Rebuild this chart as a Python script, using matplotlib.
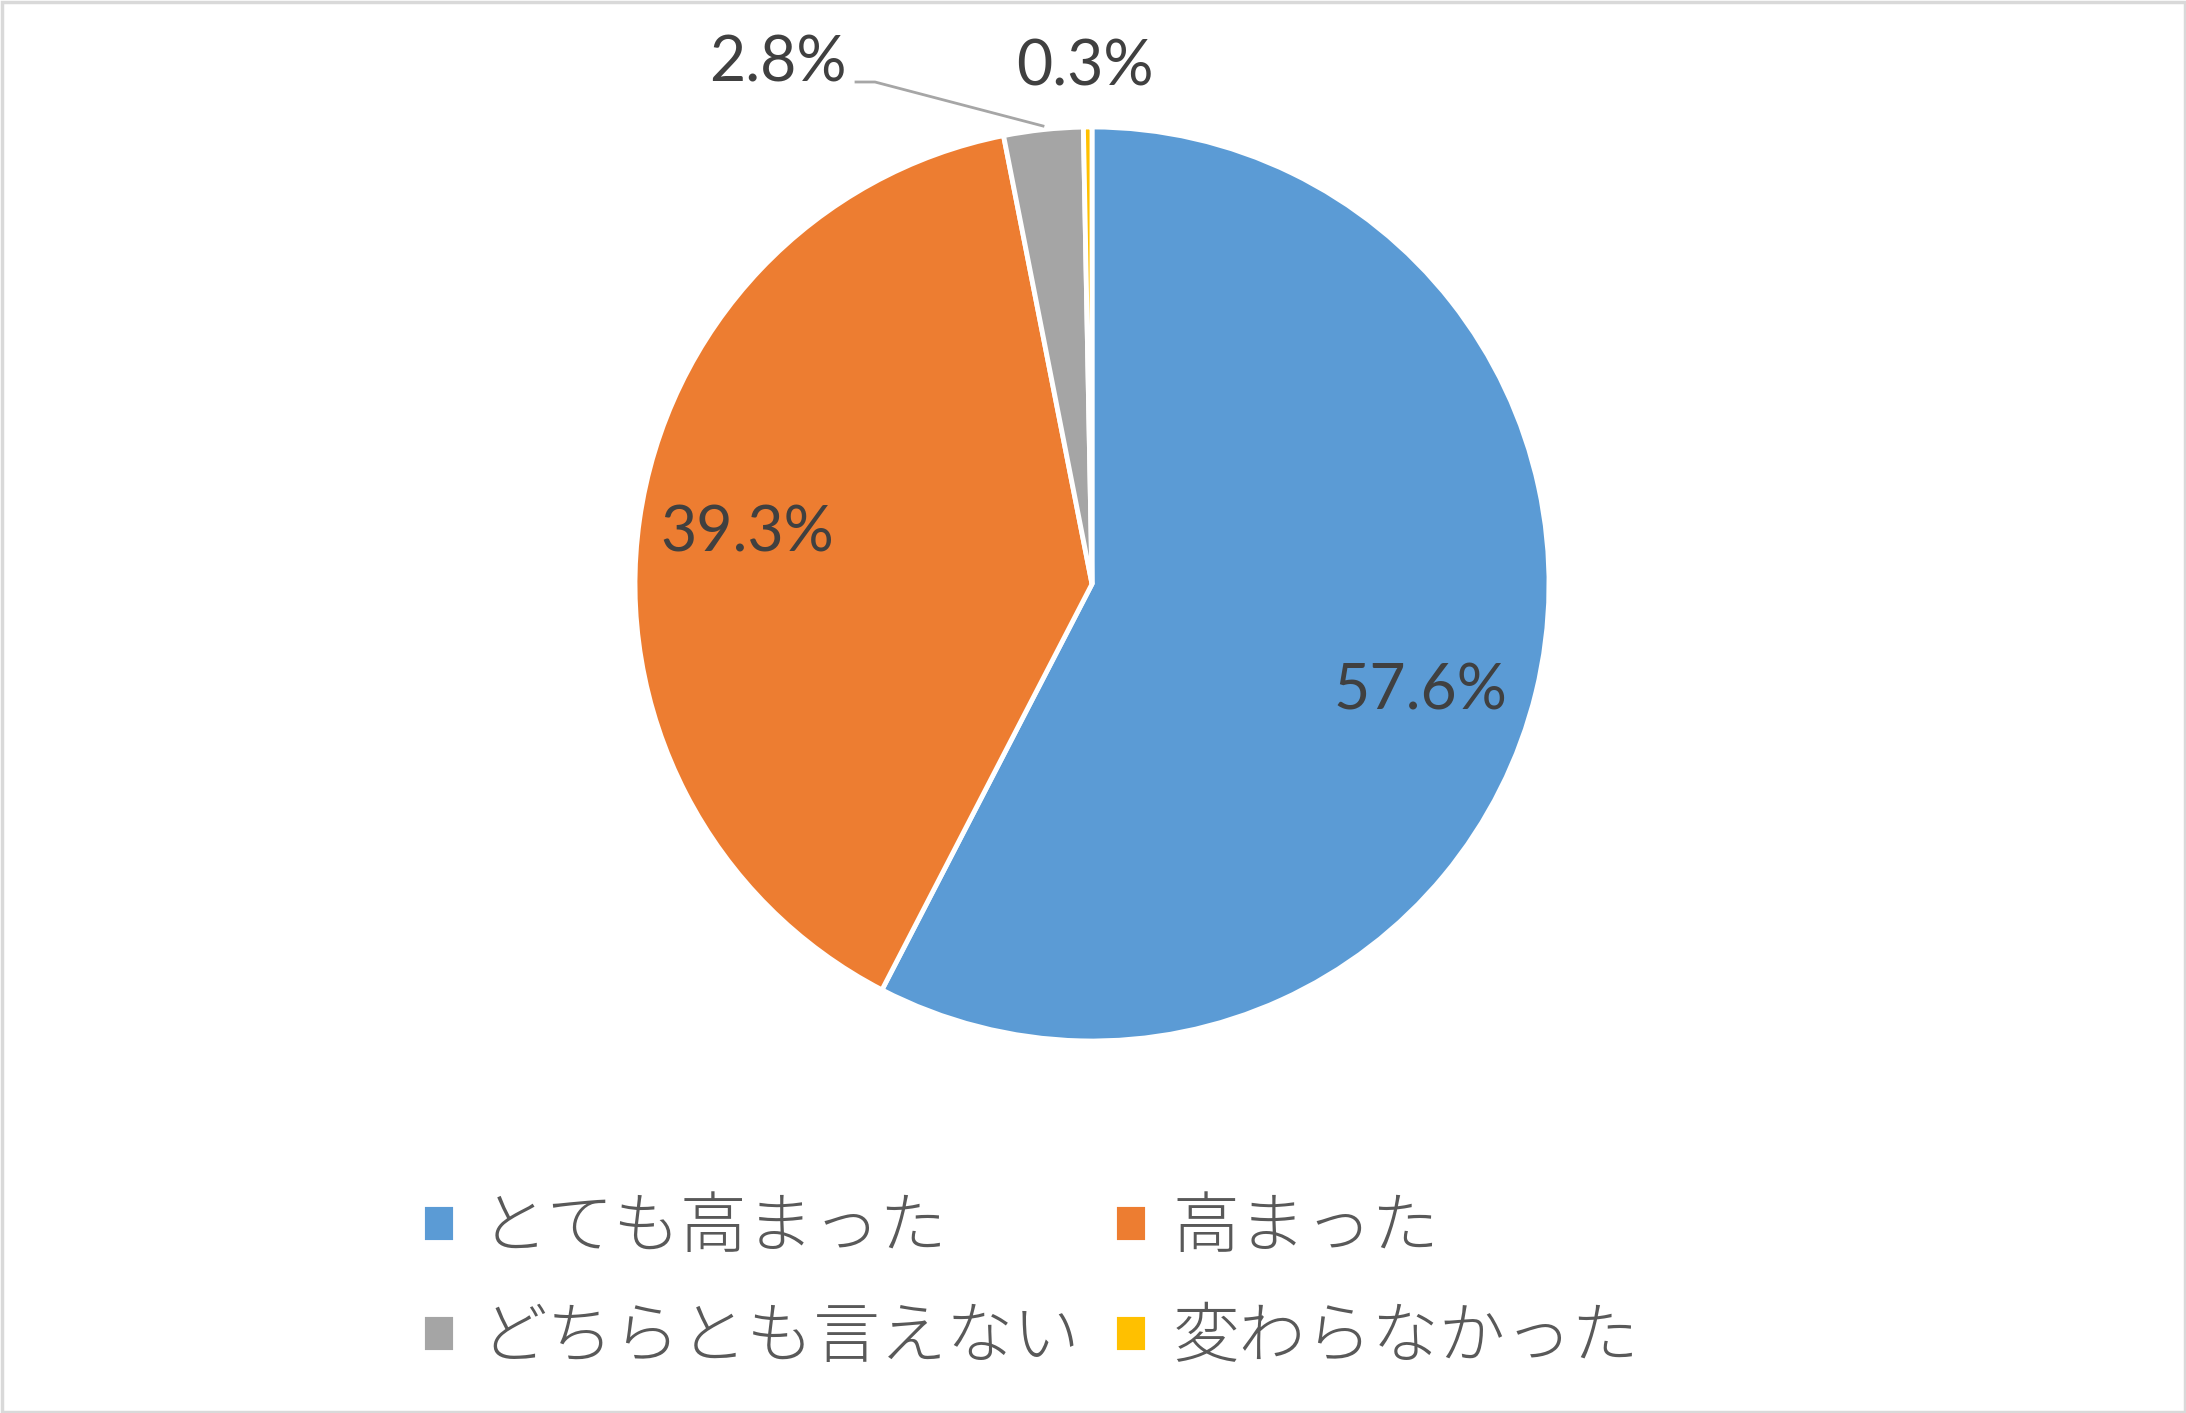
import matplotlib
matplotlib.use("Agg")
import matplotlib.pyplot as plt
from matplotlib.patches import Rectangle

plt.rcParams['font.family'] = ['Noto Sans CJK JP', 'DejaVu Sans']

labels = ['とても高まった', '高まった', 'どちらとも言えない', '変わらなかった']
values = [57.6, 39.3, 2.8, 0.3]
colors = ['#5b9bd5', '#ed7d31', '#a5a5a5', '#ffc000']
# label anchors in pixel space (x, y from top)
label_pos = [(1420, 692), (747, 533), (778, 63), (1085, 67)]

W, H = 2186, 1413
fig = plt.figure(figsize=(W / 100, H / 100), dpi=100)
ax = fig.add_axes([0, 0, 1, 1])

# outer frame
ax.add_patch(Rectangle((1.5, 1.5), W - 3, H - 3, fill=False,
                       edgecolor='#d9d9d9', linewidth=2.5))

cx, cy, r = 1092, H - 584, 457
wedges, _ = ax.pie(values, colors=colors, startangle=90, counterclock=False,
                   center=(cx, cy), radius=r, frame=True,
                   wedgeprops=dict(edgecolor='white', linewidth=3.5))
ax.set_xlim(0, W)
ax.set_ylim(0, H)
ax.set_aspect('equal')
ax.axis('off')

for v, (x, y) in zip(values, label_pos):
    ax.text(x, H - y, f'{v:.1f}%', ha='center', va='center',
            fontsize=45, color='#404040', family=['Lato', 'DejaVu Sans'])

# leader line for 2.8%
ax.plot([856, 875, 1043], [H - 82, H - 82, H - 126], color='#a6a6a6', lw=2)

# legend laid out row by row: reorder for matplotlib's column-first fill
order = [0, 2, 1, 3]
leg = ax.legend([wedges[i] for i in order], [labels[i] for i in order],
                ncol=2, loc='upper left',
                bbox_to_anchor=(422 / W, 1 - 1193 / H),
                bbox_transform=fig.transFigure, frameon=False,
                fontsize=48, handlelength=0.5, handleheight=0.5,
                handletextpad=0.38, columnspacing=0.5, labelspacing=0.61,
                borderpad=0, borderaxespad=0)
for t in leg.get_texts():
    t.set_color('#595959')
    t.set_fontweight('light')

fig.savefig('out.png', dpi=100, facecolor='white')
